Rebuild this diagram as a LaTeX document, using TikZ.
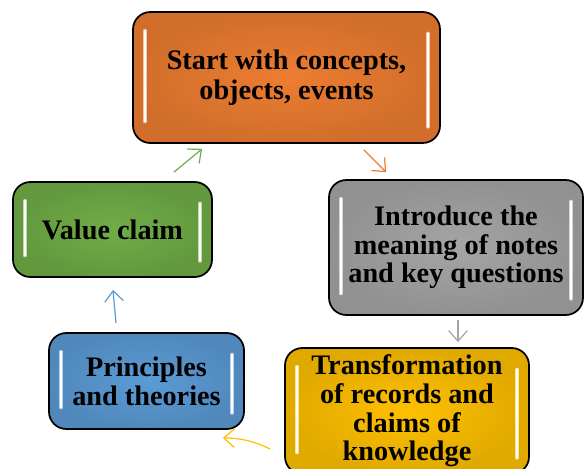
\documentclass[tikz,border=0pt]{standalone}
\usepackage{fontspec}
\setmainfont{Liberation Serif}
\usetikzlibrary{arrows.meta,calc}
\definecolor{corange}{HTML}{ED7D31}
\definecolor{cgray}{HTML}{A5A5A5}
\definecolor{cyellow}{HTML}{FFC000}
\definecolor{cblue}{HTML}{5B9BD5}
\definecolor{cgreen}{HTML}{70AD47}
\tikzset{
  box/.style={draw=black, line width=1.3pt, rounded corners=13pt, fill=#1,
    inner color=#1, outer color=#1!88!black,
    align=center, font=\fontsize{21.2}{21.5}\selectfont\bfseries,
    path picture={
      \draw[#1!45!white, line width=2.6pt, line cap=round]
        ([shift={(9pt,-14pt)}]path picture bounding box.north west) --
        ([shift={(9pt,16pt)}]path picture bounding box.south west);
      \draw[white, line width=1.1pt, line cap=round]
        ([shift={(9pt,-14pt)}]path picture bounding box.north west) --
        ([shift={(9pt,16pt)}]path picture bounding box.south west);
      \draw[#1!45!white, line width=2.6pt, line cap=round]
        ([shift={(-9pt,-16pt)}]path picture bounding box.north east) --
        ([shift={(-9pt,12pt)}]path picture bounding box.south east);
      \draw[white, line width=1.1pt, line cap=round]
        ([shift={(-9pt,-16pt)}]path picture bounding box.north east) --
        ([shift={(-9pt,12pt)}]path picture bounding box.south east);
    }},
  conn/.style={draw=#1, line width=0.9pt, -{Straight Barb[length=8pt,width=14pt,line width=0.9pt]}}
}
\begin{document}
\begin{tikzpicture}[x=0.75pt,y=-0.75pt]
\clip (0,0) rectangle (584,468);
\fill[white] (0,0) rectangle (584,468);
\node[box=corange, minimum width=230.25pt, minimum height=98.25pt] (start) at (286.5,77.5)
  {Start with concepts,\\[0.8pt]objects, events};
\node[box=cgray, minimum width=190.5pt, minimum height=101.25pt] (intro) at (456,247.5)
  {Introduce the\\meaning of notes\\and key questions};
\node[box=cyellow, minimum width=183pt, minimum height=94.5pt] (trans) at (407,411)
  {Transformation\\of records and\\claims of\\knowledge};
\node[box=cblue, minimum width=146.25pt, minimum height=72pt] (princ) at (146.5,381)
  {Principles\\and theories};
\node[box=cgreen, minimum width=149.25pt, minimum height=71.25pt] (value) at (112.5,229.5)
  {Value claim};
\draw[conn=cgreen] ($(value.north east)+(-39,-9)$) -- ($(start.south west)+(70,5)$);
\draw[conn=corange] ($(start.south east)+(-77,6)$) -- ($(intro.north west)+(58,-7)$);
\draw[conn=cgray] ($(intro.south)+(2,4)$) -- ($(trans.north)+(51,-5)$);
\draw[conn=cyellow] ($(trans.west)+(-14,38)$) to[bend right=12] ($(princ.south east)+(-22,8)$);
\draw[conn=cblue] ($(princ.north)+(-30.5,-9)$) -- ($(value.south)+(0.5,12)$);
\end{tikzpicture}
\end{document}
